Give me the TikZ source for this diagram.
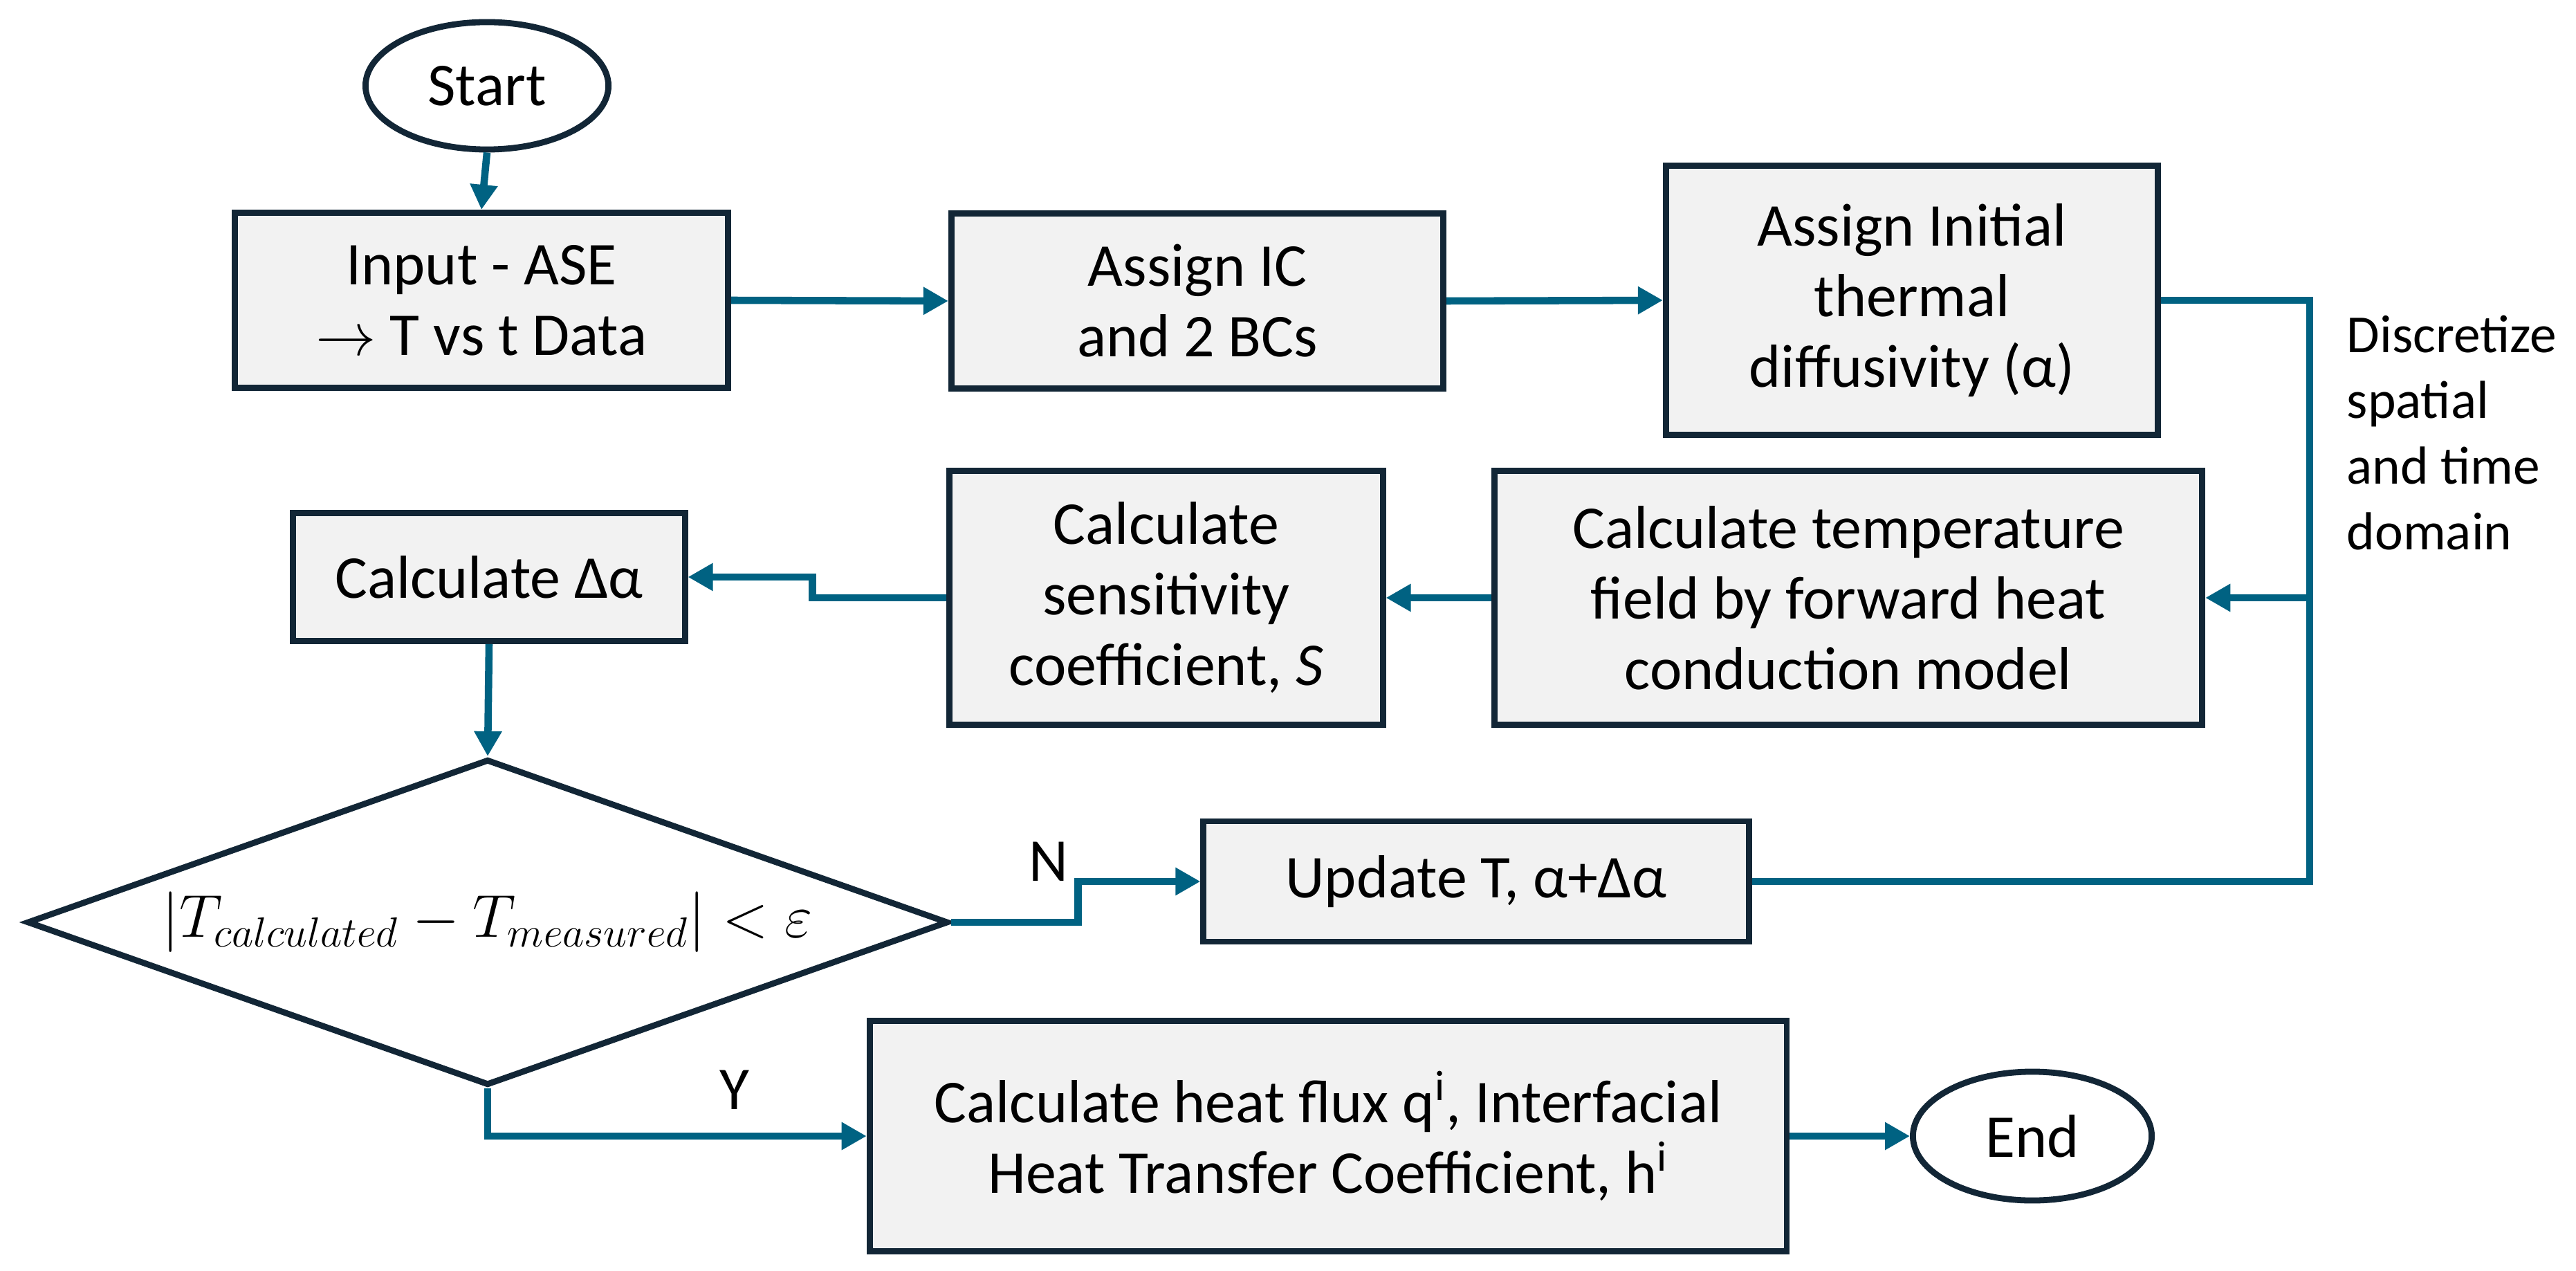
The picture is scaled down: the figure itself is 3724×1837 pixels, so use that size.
\documentclass[tikz,border=0pt]{standalone}
\usepackage{fontspec}
\setmainfont{Carlito}
\usetikzlibrary{shapes.geometric,arrows.meta}
\definecolor{arr}{RGB}{0,98,130}
\definecolor{bord}{RGB}{18,38,54}
\definecolor{boxf}{RGB}{242,242,242}
\begin{document}
\begin{tikzpicture}[x=0.01cm,y=-0.01cm,
  every node/.style={font=\fontsize{25}{29}\selectfont},
  box/.style={draw=bord,line width=2.5pt,fill=boxf,align=center,inner sep=0pt},
  term/.style={draw=bord,line width=2.5pt,ellipse,fill=white,inner sep=0pt},
  conn/.style={draw=arr,line width=3pt},
  arrw/.style={conn,-{Triangle[length=0.36cm,width=0.38cm]}},
  lbl/.style={font=\fontsize{25}{29}\selectfont}]
\useasboundingbox (0,0) rectangle (3724,1837);
\node[term,minimum width=3.51cm,minimum height=1.84cm] (start) at (704,124) {Start};
\node[box,minimum width=7.13cm,minimum height=2.53cm] (input) at (696,434) {Input - ASE\\$\rightarrow$ T vs t Data};
\node[box,minimum width=7.11cm,minimum height=2.53cm] (ic) at (1731,435) {Assign IC\\and 2 BCs};
\node[box,minimum width=7.11cm,minimum height=3.89cm] (init) at (2764,434) {Assign Initial\\thermal\\diffusivity (α)};
\node[box,minimum width=10.23cm,minimum height=3.67cm] (temp) at (2672,864) {Calculate temperature\\field by forward heat\\conduction model};
\node[box,minimum width=6.26cm,minimum height=3.67cm] (sens) at (1686,864) {Calculate\\sensitivity\\coefficient, \textit{S}};
\node[box,minimum width=5.66cm,minimum height=1.85cm] (da) at (707,834) {Calculate Δα};
\node[draw=bord,line width=2.5pt,diamond,aspect=2.83,inner sep=0pt,minimum width=13.31cm,minimum height=4.71cm] (dia) at (705,1333) {};
\node[font=\fontsize{26}{30}\selectfont] (diat) at (dia.center) {$\left|T_{calculated}-T_{measured}\right|<\varepsilon$};
\node[box,minimum width=7.88cm,minimum height=1.74cm] (upd) at (2134,1274) {Update T, α+Δα};
\node[box,minimum width=13.25cm,minimum height=3.33cm] (flux) at (1920,1642) {Calculate heat flux q\textsuperscript{i}, Interfacial\\Heat Transfer Coefficient, h\textsuperscript{i}};
\node[term,minimum width=3.45cm,minimum height=1.86cm] (end) at (2938,1642) {End};
\node[anchor=north west,align=left,inner sep=0pt,font=\fontsize{22}{27}\selectfont] (disc) at (3392,455) {Discretize\\spatial\\and time\\domain};
\node[lbl] (nl) at (1516,1245) {N};
\node[lbl] (yl) at (1062,1575) {Y};
\coordinate (r1) at (3339,864);
\draw[arrw] (start.south) -- (input.north);
\draw[arrw] (input.east) -- (ic.west);
\draw[arrw] (ic.east) -- (init.west);
\draw[arrw] (init.east) -| (r1) -- (temp.east);
\draw[conn] (upd.east) -| (r1);
\draw[arrw] (temp.west) -- (sens.east);
\draw[arrw] (sens.west) -- ++(-194,0) |- (da.east);
\draw[arrw] (da.south) -- (dia.north);
\draw[arrw] (dia.east) -- ++(183,0) |- (upd.west);
\draw[arrw] (dia.south) |- (flux.west);
\draw[arrw] (flux.east) -- (end.west);
\end{tikzpicture}
\end{document}
